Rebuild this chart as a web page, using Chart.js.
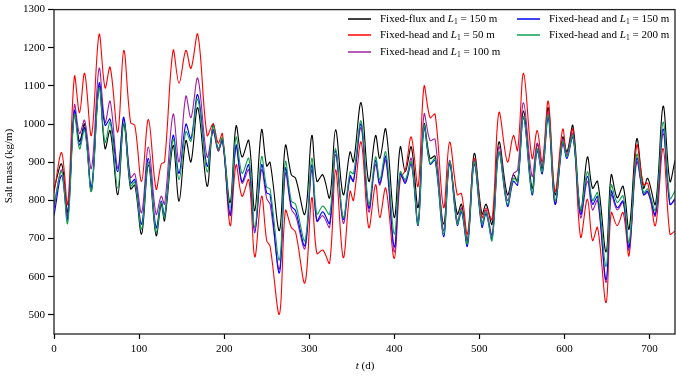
<!DOCTYPE html>
<html>
<head>
<meta charset="utf-8">
<script src="https://cdn.jsdelivr.net/npm/chart.js@4.4.1/dist/chart.umd.min.js"></script>
<style>
  html, body { margin: 0; padding: 0; background: #fff; }
  #wrap { width: 676px; height: 376px; }
</style>
</head>
<body>
<div id="wrap"><canvas id="salt-chart" width="676" height="376"></canvas></div>
<script>
// time (days) at the turning points
const days = [0, 9, 16, 24, 30, 36, 44, 53, 60, 66, 75, 82, 90, 95, 103, 111, 120, 126, 130, 140,
  147, 155, 161, 169, 180, 187, 193, 198, 207, 214, 221, 229, 236, 244, 250, 254, 265, 272, 279, 284,
  295, 303, 309, 316, 324, 331, 340, 348, 352, 361, 370, 378, 383, 390, 400, 407, 413, 420, 428, 435, 442,
  448, 458, 465, 474, 479, 486, 494, 503, 508, 515, 523, 533, 540, 545, 552, 562, 568, 574, 581, 589,
  598, 603, 610, 619, 627, 633, 639, 649, 655, 662, 669, 676, 685, 693, 698, 707, 716, 724, 730];

// salt mass (kg/m)
const fixedFlux150 = [830, 895, 770, 1030, 955, 1000, 825, 1099, 936, 983, 815, 1000, 830, 840, 712, 893, 708, 790, 747, 944,
  798, 957, 901, 1043, 837, 1000, 930, 960, 794, 995, 914, 957, 773, 985, 890, 900, 721, 944, 867, 858,
  764, 970, 850, 867, 807, 985, 815, 927, 901, 1056, 850, 970, 910, 987, 755, 940, 875, 940, 781, 1000, 910,
  916, 738, 901, 764, 790, 695, 923, 764, 790, 738, 953, 815, 867, 850, 1034, 832, 948, 884, 1043, 815,
  966, 927, 996, 773, 914, 832, 850, 665, 867, 807, 837, 725, 961, 832, 858, 790, 1047, 850, 905];
const fixedHead50 = [820, 925, 790, 1125, 1030, 1133, 970, 1235, 1095, 1149, 979, 1193, 1004, 997, 850, 1012, 830, 895, 901, 1193,
  1107, 1193, 1146, 1235, 970, 1000, 950, 975, 734, 893, 811, 854, 652, 811, 695, 680, 502, 773, 729, 717,
  584, 807, 661, 670, 636, 880, 650, 824, 800, 953, 729, 841, 755, 832, 648, 854, 880, 966, 837, 1099, 1017,
  1026, 781, 953, 815, 818, 712, 910, 755, 780, 750, 1030, 901, 970, 931, 1133, 910, 983, 901, 1060, 824,
  987, 918, 987, 704, 803, 695, 729, 532, 768, 734, 768, 656, 944, 841, 845, 734, 936, 712, 720];
const fixedHead100 = [780, 880, 760, 1050, 975, 1010, 884, 1146, 1004, 1060, 884, 1013, 860, 870, 768, 940, 764, 811, 790, 1026,
  901, 1073, 1017, 1120, 914, 980, 930, 955, 765, 940, 845, 880, 720, 880, 805, 790, 620, 871, 777, 760,
  674, 880, 745, 760, 730, 920, 740, 860, 850, 990, 770, 895, 840, 905, 665, 870, 850, 910, 745, 1026, 957,
  960, 720, 905, 745, 780, 690, 905, 740, 775, 710, 940, 800, 870, 880, 1056, 863, 950, 890, 1030, 790,
  960, 920, 975, 755, 850, 775, 800, 585, 815, 775, 795, 670, 900, 815, 820, 760, 975, 790, 800];
const fixedHead150 = [760, 865, 750, 1035, 945, 990, 835, 1107, 997, 1013, 875, 1018, 845, 855, 738, 910, 729, 798, 760, 970,
  871, 1000, 962, 1077, 890, 985, 935, 960, 760, 945, 850, 893, 715, 893, 820, 815, 610, 884, 785, 773,
  682, 893, 747, 770, 740, 930, 750, 865, 850, 1000, 780, 905, 845, 915, 678, 870, 845, 895, 735, 990, 895,
  905, 705, 895, 735, 770, 680, 895, 730, 765, 700, 925, 785, 850, 840, 1017, 815, 930, 870, 1017, 790,
  950, 910, 966, 764, 863, 790, 810, 592, 824, 781, 798, 678, 910, 815, 824, 764, 987, 790, 805];
const fixedHead200 = [790, 875, 740, 1025, 935, 985, 824, 1095, 952, 1005, 832, 1005, 838, 848, 725, 900, 716, 795, 755, 960,
  855, 980, 955, 1065, 875, 995, 935, 965, 780, 966, 871, 910, 729, 914, 835, 830, 644, 901, 798, 790,
  695, 910, 764, 785, 764, 936, 755, 875, 870, 1008, 790, 914, 854, 927, 712, 875, 855, 901, 738, 996, 897,
  910, 712, 901, 738, 775, 687, 901, 738, 770, 695, 927, 790, 858, 850, 1020, 820, 935, 875, 1025, 800,
  955, 915, 970, 775, 875, 800, 820, 627, 840, 795, 812, 690, 920, 820, 830, 775, 1005, 805, 825];

const seriesNames = ['Fixed-flux and L₁ = 150 m', 'Fixed-head and L₁ = 50 m', 'Fixed-head and L₁ = 100 m',
  'Fixed-head and L₁ = 150 m', 'Fixed-head and L₁ = 200 m'];
const seriesColors = ['#000000', '#ff0000', '#a0209f', '#0000ff', '#10a050'];
const seriesValues = [fixedFlux150, fixedHead50, fixedHead100, fixedHead150, fixedHead200];

const xTicks = [0, 100, 200, 300, 400, 500, 600, 700];
const yTicks = [500, 600, 700, 800, 900, 1000, 1100, 1200, 1300];

const SERIF = '"Liberation Serif", "Times New Roman", serif';

// legend slots: [x of line start, y], column-major like the figure
const legendSlots = [[348, 19], [348, 35], [348, 52], [517, 19], [517, 35]];

function drawLegendEntry(ctx, x, y, color, label) {
  ctx.strokeStyle = color;
  ctx.lineWidth = 1.5;
  ctx.beginPath();
  ctx.moveTo(x, y);
  ctx.lineTo(x + 23, y);
  ctx.stroke();

  const [before, after] = label.split('L₁');
  let tx = x + 32;
  ctx.fillStyle = '#000';
  ctx.textBaseline = 'middle';
  ctx.textAlign = 'left';
  ctx.font = '11px ' + SERIF;
  ctx.fillText(before, tx, y);
  tx += ctx.measureText(before).width;
  ctx.font = 'italic 11px ' + SERIF;
  ctx.fillText('L', tx, y);
  tx += ctx.measureText('L').width;
  ctx.font = '7.5px ' + SERIF;
  ctx.fillText('1', tx, y + 3);
  tx += ctx.measureText('1').width;
  ctx.font = '11px ' + SERIF;
  ctx.fillText(after, tx, y);
}

const decorations = {
  id: 'decorations',
  afterDraw(chart) {
    const { ctx, chartArea: a } = chart;
    ctx.save();

    // frame
    ctx.strokeStyle = '#222';
    ctx.lineWidth = 1.3;
    ctx.strokeRect(a.left, a.top, a.right - a.left, a.bottom - a.top);

    // y title
    ctx.fillStyle = '#000';
    ctx.font = '11px ' + SERIF;
    ctx.textAlign = 'center';
    ctx.textBaseline = 'middle';
    ctx.save();
    ctx.translate(9, 166);
    ctx.rotate(-Math.PI / 2);
    ctx.fillText('Salt mass (kg/m)', 0, 0);
    ctx.restore();

    // x title, italic t
    ctx.textAlign = 'left';
    ctx.font = 'italic 11px ' + SERIF;
    const wt = ctx.measureText('t').width;
    ctx.font = '11px ' + SERIF;
    const wd = ctx.measureText(' (d)').width;
    let tx = 365 - (wt + wd) / 2;
    ctx.font = 'italic 11px ' + SERIF;
    ctx.fillText('t', tx, 366);
    ctx.font = '11px ' + SERIF;
    ctx.fillText(' (d)', tx + wt, 366);

    seriesNames.forEach((name, i) => {
      drawLegendEntry(ctx, legendSlots[i][0], legendSlots[i][1], seriesColors[i], name);
    });
    ctx.restore();
  }
};

const ctx = document.getElementById('salt-chart').getContext('2d');
new Chart(ctx, {
  type: 'line',
  data: {
    datasets: seriesValues.map((vals, i) => ({
      label: seriesNames[i],
      data: days.map((d, j) => ({ x: d, y: vals[j] })),
      borderColor: seriesColors[i],
      borderWidth: 1.1,
      pointRadius: 0,
      fill: false,
      tension: 0.35,
      order: 5 - i // green drawn last, on top
    }))
  },
  options: {
    responsive: false,
    animation: false,
    layout: { padding: { top: 5, right: 1, left: 0, bottom: 0 } },
    plugins: { legend: { display: false }, tooltip: { enabled: false } },
    scales: {
      x: {
        type: 'linear',
        min: 0,
        max: 730,
        afterBuildTicks: s => { s.ticks = xTicks.map(v => ({ value: v })); },
        afterFit: s => { s.height = 42; },
        grid: { drawOnChartArea: false, tickLength: 5, color: '#000', tickWidth: 1.2 },
        border: { display: false },
        ticks: { color: '#000', padding: 4, maxRotation: 0, font: { family: SERIF, size: 11 },
          callback: v => String(v) }
      },
      y: {
        min: 450,
        max: 1300,
        afterBuildTicks: s => { s.ticks = yTicks.map(v => ({ value: v })); },
        afterFit: s => { s.width = 54; },
        grid: { drawOnChartArea: false, tickLength: 6, color: '#000', tickWidth: 1.2 },
        border: { display: false },
        ticks: { color: '#000', padding: 3, font: { family: SERIF, size: 11 },
          callback: v => String(v) }
      }
    }
  },
  plugins: [decorations]
});
</script>
</body>
</html>
